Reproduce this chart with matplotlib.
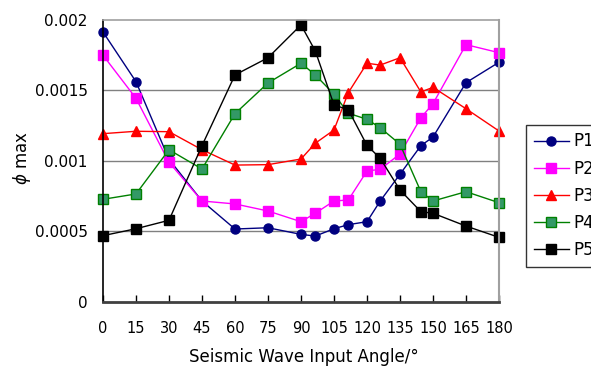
import matplotlib
matplotlib.use("Agg")
import matplotlib.pyplot as plt

# =========================
# Data
# =========================

angles = [0, 15, 30, 45, 60, 75, 90, 96.5, 105, 111.5, 120, 126, 135, 144.5, 150, 165, 180]

p1 = [0.001915, 0.001562, 0.001011, 0.000715, 0.000516, 0.000525, 0.000478, 0.000466, 0.000518,
      0.000547, 0.000568, 0.000715, 0.000905, 0.001108, 0.001169, 0.001555, 0.001700]
p2 = [0.001750, 0.001444, 0.000990, 0.000715, 0.000694, 0.000644, 0.000568, 0.000628, 0.000715,
      0.000722, 0.000928, 0.000940, 0.001049, 0.001306, 0.001406, 0.001825, 0.001768]
p3 = [0.001193, 0.001210, 0.001207, 0.001079, 0.000970, 0.000973, 0.001013, 0.001125, 0.001219,
      0.001484, 0.001693, 0.001680, 0.001732, 0.001489, 0.001522, 0.001370, 0.001212]
p4 = [0.000727, 0.000765, 0.001079, 0.000942, 0.001335, 0.001553, 0.001693, 0.001610, 0.001473,
      0.001338, 0.001295, 0.001235, 0.001118, 0.000781, 0.000715, 0.000781, 0.000703]
p5 = [0.000469, 0.000518, 0.000578, 0.001108, 0.001610, 0.001732, 0.001965, 0.001780, 0.001397,
      0.001363, 0.001110, 0.001018, 0.000793, 0.000639, 0.000628, 0.000537, 0.000457]

series_names = ["P1", "P2", "P3", "P4", "P5"]
x_ticks = [0, 15, 30, 45, 60, 75, 90, 105, 120, 135, 150, 165, 180]
y_ticks = [0, 0.0005, 0.001, 0.0015, 0.002]
y_tick_labels = ["0", "0.0005", "0.001", "0.0015", "0.002"]

# =========================
# Styles
# =========================

styles = [
    dict(color="#000080", marker="o", mfc="#000080", mec="#000080", ms=6.5),
    dict(color="#FF00FF", marker="s", mfc="#FF00FF", mec="#FF00FF", ms=6.5),
    dict(color="#FF0000", marker="^", mfc="#FF0000", mec="#FF0000", ms=7.5),
    dict(color="#008000", marker="s", mfc="#339966", mec="#008000", ms=6.5),
    dict(color="#000000", marker="s", mfc="#000000", mec="#000000", ms=6.5),
]

plt.rcParams['font.family'] = ['DejaVu Sans']

fig = plt.figure(figsize=(5.91, 3.69), dpi=100)
ax = fig.add_axes([103 / 591, 1 - 301.7 / 369, 396 / 591, 281.7 / 369])

for name, values, st in zip(series_names, [p1, p2, p3, p4, p5], styles):
    ax.plot(angles, values, label=name, lw=1.0, clip_on=False, **st)

ax.set_xlim(0, 180)
ax.set_ylim(0, 0.002)

ax.set_xticks(x_ticks)
ax.set_xticklabels([str(t) for t in x_ticks], fontsize=10.5)
ax.set_yticks(y_ticks)
ax.set_yticklabels(y_tick_labels, fontsize=11)

ax.tick_params(axis="x", direction="in", length=5, width=1, pad=14, color="#000000")
ax.tick_params(axis="y", length=0, pad=11)

for y in y_ticks[1:-1]:
    ax.axhline(y, color="#808080", lw=1, zorder=0)

ax.spines["left"].set_color("#000000")
ax.spines["left"].set_linewidth(1.2)
ax.spines["bottom"].set_color("#404040")
ax.spines["bottom"].set_linewidth(2)
ax.spines["top"].set_color("#a0a0a0")
ax.spines["top"].set_linewidth(1.2)
ax.spines["right"].set_color("#a0a0a0")
ax.spines["right"].set_linewidth(1.5)

fig.text(22 / 591, 1 - 158 / 369, r"$\phi$ max", rotation=90, ha="center", va="center", fontsize=12)
fig.text(304 / 591, 1 - 357 / 369, "Seismic Wave Input Angle/°", ha="center", va="center", fontsize=12)

# legend sits partly outside the figure, as in the original
leg = ax.legend(loc="upper left", bbox_to_anchor=(526 / 591, 1 - 125 / 369),
                bbox_transform=fig.transFigure, fontsize=12, frameon=True,
                fancybox=False, borderpad=0.45, labelspacing=0.55, handlelength=2.1,
                handletextpad=0.3, borderaxespad=0)
leg.get_frame().set_edgecolor("#000000")
leg.get_frame().set_linewidth(1)

plt.savefig("out.png", dpi=100)
